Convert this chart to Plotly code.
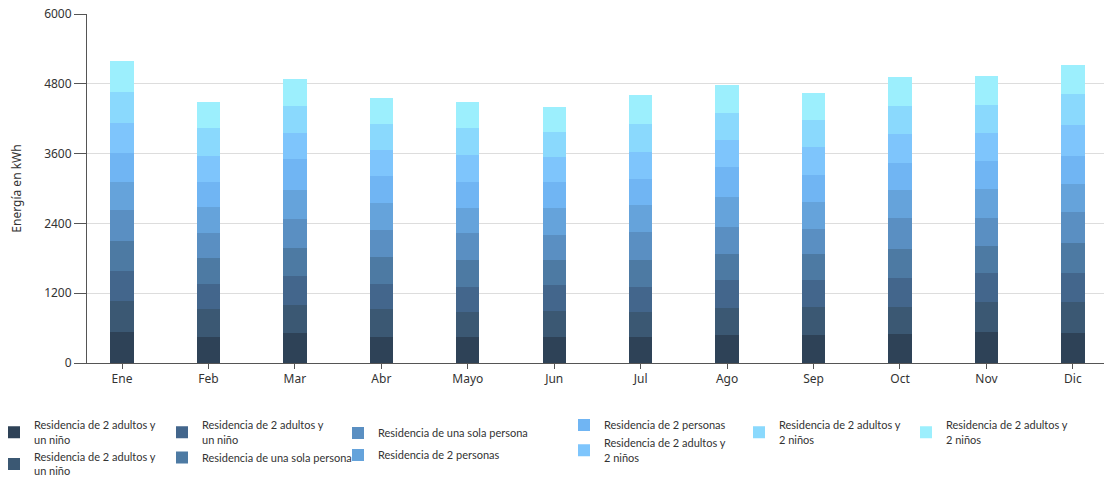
import plotly.graph_objects as go

months = ["Ene", "Feb", "Mar", "Abr", "Mayo", "Jun", "Jul", "Ago", "Sep", "Oct", "Nov", "Dic"]

series_names = [
    "Residencia de 2 adultos y<br>un niño",
    "Residencia de 2 adultos y<br>un niño",
    "Residencia de 2 adultos y<br>un niño",
    "Residencia de una sola persona",
    "Residencia de una sola persona",
    "Residencia de 2 personas",
    "Residencia de 2 personas",
    "Residencia de 2 adultos y<br>2 niños",
    "Residencia de 2 adultos y<br>2 niños",
    "Residencia de 2 adultos y<br>2 niños",
]

# values per month, segment 1 (bottom) .. segment 10 (top)
s1 = [531, 451, 514, 451, 451, 451, 451, 474, 474, 497, 531, 514]
s2 = [531, 469, 491, 469, 429, 446, 429, 469, 491, 469, 514, 531]
s3 = [526, 446, 486, 446, 429, 451, 429, 480, 457, 491, 509, 509]
s4 = [514, 446, 491, 463, 469, 429, 469, 457, 457, 503, 463, 503]
s5 = [520, 429, 486, 457, 463, 423, 480, 463, 423, 526, 469, 531]
s6 = [491, 446, 509, 469, 429, 469, 451, 514, 469, 491, 514, 491]
s7 = [491, 429, 526, 463, 446, 446, 446, 509, 469, 469, 480, 486]
s8 = [526, 446, 451, 446, 463, 429, 469, 463, 469, 486, 480, 526]
s9 = [531, 474, 469, 451, 457, 429, 491, 469, 469, 491, 480, 531]
s10 = [526, 446, 463, 446, 446, 423, 486, 486, 463, 486, 486, 509]
series_values = [s1, s2, s3, s4, s5, s6, s7, s8, s9, s10]

colors = ["#2e4257", "#3b5873", "#43668c", "#4d7aa3", "#5a8fc2",
          "#65a3db", "#70b5f3", "#7ec5fc", "#8ad9fd", "#9ceffd"]

# which legend column each series goes into
legend_ids = ["legend", "legend", "legend2", "legend2", "legend3",
              "legend3", "legend4", "legend4", "legend5", "legend6"]

fig = go.Figure()
for i, (name, vals, col, lg) in enumerate(zip(series_names, series_values, colors, legend_ids)):
    fig.add_trace(go.Bar(
        x=months, y=vals, name=name,
        marker=dict(color=col, line=dict(width=0)),
        width=0.27, legend=lg, legendgroup=f"g{i}",
    ))

L, R, T, B = 87.0, 1104.0, 14.0, 363.0
TEXT_OFF_X = 40.0
TEXT_OFF_Y = 12.5

legend_font = dict(family="Lato, Noto Sans, sans-serif", size=11, color="#333333")
legend_text_x = [34, 202, 378, 604, 779, 946]
legend_text_y = [424, 424, 431, 423, 424, 424]
legend_gaps = [0, 0, 3, 0, 0, 0]
legend_orders = ["normal", "normal", "grouped", "normal", "normal", "normal"]
layout_legends = {}
for i, (tx, ty, gap, order) in enumerate(zip(legend_text_x, legend_text_y, legend_gaps, legend_orders)):
    key = "legend" if i == 0 else f"legend{i+1}"
    layout_legends[key] = dict(
        orientation="v", xanchor="left", yanchor="top",
        x=(tx - TEXT_OFF_X - L) / (R - L),
        y=(B - (ty - TEXT_OFF_Y)) / (B - T),
        bgcolor="rgba(0,0,0,0)", borderwidth=0,
        font=legend_font, itemwidth=30, tracegroupgap=gap,
        traceorder=order,
    )

fig.update_layout(
    width=1104, height=477,
    margin=dict(l=87, r=0, t=14, b=114, autoexpand=False),
    barmode="stack",
    paper_bgcolor="white",
    plot_bgcolor="white",
    font=dict(family="Noto Sans, Open Sans, sans-serif", size=12, color="#333333"),
    xaxis=dict(
        type="category",
        range=[-0.405, 11.36],
        showgrid=False,
        showline=True, linecolor="#555555", linewidth=1,
        ticks="outside", ticklen=5, tickcolor="#555555",
        tickfont=dict(size=12, color="#333333"),
    ),
    yaxis=dict(
        range=[0, 6000],
        tickvals=[0, 1200, 2400, 3600, 4800, 6000],
        showgrid=True, gridcolor="#dddddd", gridwidth=1,
        showline=True, linecolor="#555555", linewidth=1,
        ticks="outside", ticklen=12, tickcolor="#555555",
        tickfont=dict(size=12, color="#333333"),
        zeroline=False,
        title=dict(text="Energía en kWh", font=dict(size=12, color="#333333"), standoff=19),
    ),
    **layout_legends,
)

fig.write_html("out.html", config={"displayModeBar": False},
               post_script="document.body.style.margin='0';")
